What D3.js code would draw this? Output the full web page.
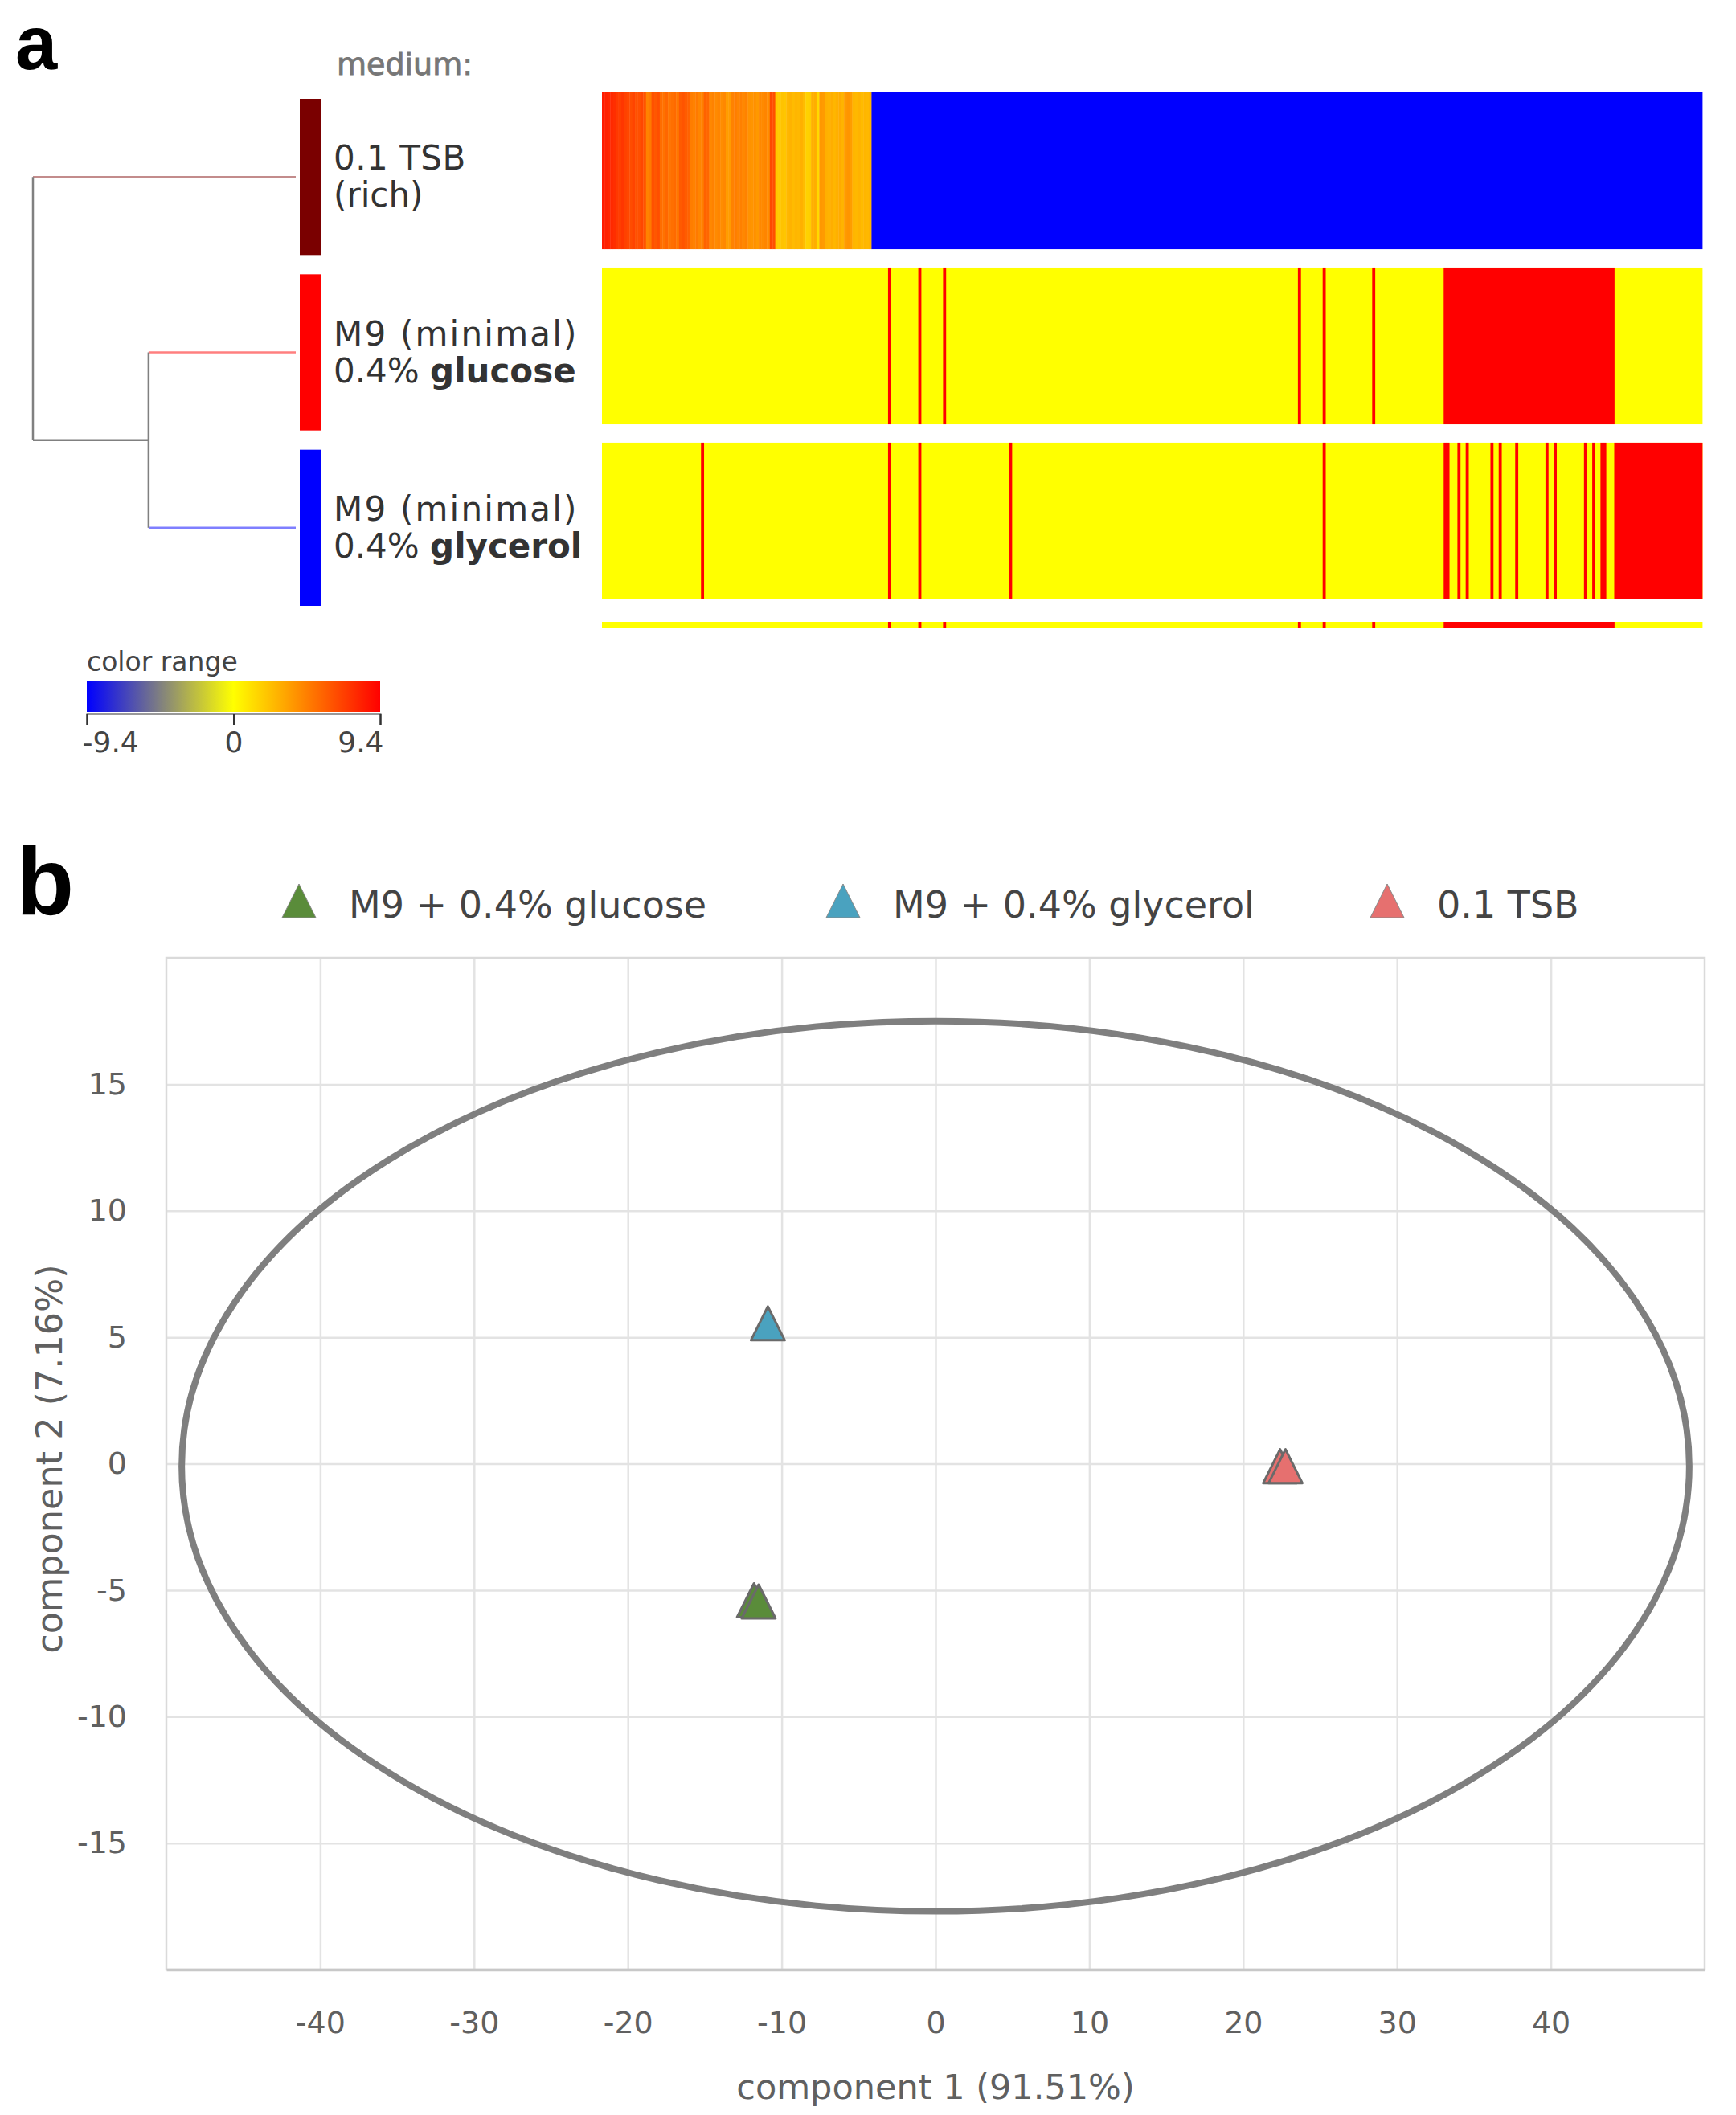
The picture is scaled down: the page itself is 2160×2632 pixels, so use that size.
<!DOCTYPE html>
<html>
<head>
<meta charset="utf-8">
<script src="https://cdn.jsdelivr.net/npm/d3@7/dist/d3.min.js"></script>
<style>
  body { margin: 0; background: #fff; }
  svg { display: block; }
  text { font-family: "DejaVu Sans", sans-serif; }
</style>
</head>
<body>
<svg id="chart" width="2160" height="2632"></svg>
<script>
// ---------------- DATA : panel a (heatmap) ----------------
const conditions = ["tsb", "glucose", "glycerol"];
const conditionLine1 = ["0.1 TSB", "M9 (minimal)", "M9 (minimal)"];
const conditionLine2Plain = ["(rich)", "0.4% ", "0.4% "];
const conditionLine2Bold = ["", "glucose", "glycerol"];
const conditionColors = ["#7a0000", "#ff0000", "#0000ff"];
const nColumns = 400;
// TSB row: warm (up-regulated) columns 0..97, then a blue block
const tsbWarmValues = [
  8.4, 8.2, 8.0, 7.9, 7.7,
  7.3, 7.1, 7.4, 7.0, 6.8,
  6.6, 6.9, 6.4, 6.5, 6.8, 6.3,
  4.6, 4.9,
  6.4, 6.2, 6.5,
  5.4, 5.2, 5.6, 5.1, 5.3, 5.5, 5.0,
  6.1, 6.3, 6.0, 5.8,
  4.8, 4.6, 4.9, 4.5, 4.7,
  5.8, 5.6,
  4.4, 4.6, 4.3, 4.5, 4.2, 4.4,
  3.6, 3.7,
  4.6, 4.8, 4.5, 4.7, 4.4, 4.6,
  4.0, 3.9, 4.1, 3.8,
  4.4, 4.3, 4.5, 4.2,
  6.7, 6.4,
  2.0, 1.9, 2.2, 2.1,
  2.6, 2.8, 2.5, 2.7, 2.6, 2.9, 2.5,
  1.7, 1.8,
  2.9, 3.0,
  1.4,
  3.8, 3.7,
  2.9, 2.8, 3.0, 2.7, 2.9, 3.1, 2.8,
  3.7, 3.9, 3.6,
  2.7, 2.6, 2.8, 2.5, 2.7, 2.6, 2.8
];
const tsbBlueBlock = [98, 400, -9.4];
const baseValue = 0;
const redValue = 9.4;
const glucoseRedCols = [104, 115, 124, 253, 262, 280];
const glucoseRedBlocks = [[306, 368]];
const glycerolRedCols = [36, 104, 115, 148, 262, 306, 307, 311, 314, 323, 326, 332, 343, 346, 357, 360, 363, 364];
const glycerolRedBlocks = [[368, 400]];
const colorStops = [-9.4, 0, 9.4];
const colorStopColors = ["#0000ff", "#ffff00", "#ff0000"];
const colorTicks = [-9.4, 0, 9.4];
// dendrogram merge heights (relative)
const mergeGlucoseGlycerol = 0.56;
const mergeRoot = 1.0;

// ---------------- DATA : panel b (PCA) ----------------
const pcaSeries = ["M9 + 0.4% glucose", "M9 + 0.4% glycerol", "0.1 TSB"];
const pcaColors = ["#5a8c3a", "#4aa2bf", "#e6706f"];
const glucosePoints = [[-11.8, -5.4], [-11.5, -5.45]];
const glycerolPoints = [[-10.9, 5.55]];
const tsbPoints = [[22.4, -0.1], [22.75, -0.1]];
const xTicks = [-40, -30, -20, -10, 0, 10, 20, 30, 40];
const yTicks = [-15, -10, -5, 0, 5, 10, 15];
const ellipseCenter = [0, -0.1];
const ellipseRadii = [49, 17.6];
const xTitle = "component 1 (91.51%)";
const yTitle = "component 2 (7.16%)";

// ---------------- DRAW ----------------
const svg = d3.select("#chart");

// panel labels
svg.append("text").attr("x", 19).attr("y", 86)
  .style("font-family", "'Liberation Sans', Arial, sans-serif")
  .attr("font-weight", "bold").attr("font-size", 94).attr("fill", "#000").text("a");
svg.append("text").attr("x", 20).attr("y", 1138)
  .style("font-family", "'Liberation Sans', Arial, sans-serif")
  .attr("font-weight", "bold").attr("font-size", 118).attr("fill", "#000").text("b");

// colour scale
const color = d3.scaleLinear().domain(colorStops).range(colorStopColors).interpolate(d3.interpolateRgb).clamp(true);

// heatmap scales
const hx = d3.scaleLinear().domain([0, nColumns]).range([749, 2118]);
const hy = d3.scaleBand().domain(conditions).range([115, 746]).paddingInner(0.105);
const by = d3.scaleBand().domain(conditions).range([123, 754]).paddingInner(0.11);

function rowSegments(redCols, redBlocks) {
  const segs = [[0, nColumns, baseValue]];
  redCols.forEach(c => segs.push([c, c + 1, redValue]));
  redBlocks.forEach(b => segs.push([b[0], b[1], redValue]));
  return segs;
}
const tsbSegments = tsbWarmValues.map((v, i) => [i, i + 1, v]).concat([tsbBlueBlock]);
const rows = {
  tsb: tsbSegments,
  glucose: rowSegments(glucoseRedCols, glucoseRedBlocks),
  glycerol: rowSegments(glycerolRedCols, glycerolRedBlocks)
};

const heat = svg.append("g");
conditions.forEach(c => {
  heat.append("g").selectAll("rect").data(rows[c]).join("rect")
    .attr("x", d => hx(d[0]))
    .attr("width", d => Math.max(0.5, hx(d[1]) - hx(d[0]) + 0.4))
    .attr("y", hy(c))
    .attr("height", hy.bandwidth())
    .attr("fill", d => color(d[2]));
});
// thin summary strip (glucose pattern)
heat.append("g").selectAll("rect").data(rows.glucose).join("rect")
  .attr("x", d => hx(d[0]))
  .attr("width", d => Math.max(0.5, hx(d[1]) - hx(d[0]) + 0.4))
  .attr("y", 774).attr("height", 8)
  .attr("fill", d => color(d[2]));

// condition colour bars
svg.append("g").selectAll("rect").data(conditions).join("rect")
  .attr("x", 373).attr("width", 27)
  .attr("y", d => by(d)).attr("height", by.bandwidth())
  .attr("fill", (d, i) => conditionColors[i]);

// "medium:" header
svg.append("text").attr("x", 419).attr("y", 93).attr("font-size", 38)
  .attr("fill", "#777").attr("stroke", "#777").attr("stroke-width", 0.9).text("medium:");

// condition labels
const lab = svg.append("g").attr("fill", "#333").attr("font-size", 42);
conditions.forEach((c, i) => {
  const mid = by(c) + by.bandwidth() / 2;
  lab.append("text").attr("x", 415).attr("y", mid - 9)
    .attr("letter-spacing", i === 0 ? 0.5 : 2.2).text(conditionLine1[i]);
  const t = lab.append("text").attr("x", 415).attr("y", mid + 37);
  t.append("tspan").text(conditionLine2Plain[i]);
  if (conditionLine2Bold[i]) t.append("tspan").attr("font-weight", "bold").text(conditionLine2Bold[i]);
});

// dendrogram
const dx = d3.scaleLinear().domain([0, mergeRoot]).range([368, 41]);
const leafY = c => by(c) + by.bandwidth() / 2;
const dendro = svg.append("g").attr("fill", "none").attr("stroke-width", 2.5);
const yG = leafY("glucose"), yGl = leafY("glycerol"), yT = leafY("tsb");
const yMerge = (yG + yGl) / 2;
dendro.append("line").attr("x1", dx(mergeRoot)).attr("x2", dx(0)).attr("y1", yT).attr("y2", yT)
  .attr("stroke", conditionColors[0]).attr("stroke-opacity", 0.45);
dendro.append("line").attr("x1", dx(mergeGlucoseGlycerol)).attr("x2", dx(0)).attr("y1", yG).attr("y2", yG)
  .attr("stroke", conditionColors[1]).attr("stroke-opacity", 0.5);
dendro.append("line").attr("x1", dx(mergeGlucoseGlycerol)).attr("x2", dx(0)).attr("y1", yGl).attr("y2", yGl)
  .attr("stroke", conditionColors[2]).attr("stroke-opacity", 0.5);
dendro.append("line").attr("x1", dx(mergeRoot)).attr("x2", dx(mergeRoot)).attr("y1", yT).attr("y2", yMerge).attr("stroke", "#808080");
dendro.append("line").attr("x1", dx(mergeRoot)).attr("x2", dx(mergeGlucoseGlycerol)).attr("y1", yMerge).attr("y2", yMerge).attr("stroke", "#808080");
dendro.append("line").attr("x1", dx(mergeGlucoseGlycerol)).attr("x2", dx(mergeGlucoseGlycerol)).attr("y1", yG).attr("y2", yGl).attr("stroke", "#808080");

// colour range legend
const lx = d3.scaleLinear().domain([colorTicks[0], colorTicks[colorTicks.length - 1]]).range([108, 473]);
const defs = svg.append("defs");
const grad = defs.append("linearGradient").attr("id", "cr").attr("x1", "0%").attr("x2", "100%");
d3.range(0, 1.0001, 0.05).forEach(t => {
  const v = lx.domain()[0] + t * (lx.domain()[1] - lx.domain()[0]);
  grad.append("stop").attr("offset", (t * 100) + "%").attr("stop-color", color(v));
});
svg.append("text").attr("x", 108).attr("y", 835).attr("font-size", 33).attr("fill", "#444").text("color range");
svg.append("rect").attr("x", 108).attr("y", 847).attr("width", 365).attr("height", 39).attr("fill", "url(#cr)");
const legAxis = svg.append("g").attr("transform", "translate(0,888)")
  .call(d3.axisBottom(lx).tickValues(colorTicks).tickSize(14).tickPadding(8).tickFormat(d => String(d)));
legAxis.select(".domain").attr("stroke", "#333").attr("stroke-width", 2);
legAxis.selectAll(".tick line").attr("stroke", "#333").attr("stroke-width", 2);
legAxis.selectAll(".tick text").attr("font-size", 36).attr("fill", "#444")
  .style("font-family", "'DejaVu Sans', sans-serif")
  .attr("text-anchor", (d, i) => i === 0 ? "start" : (i === colorTicks.length - 1 ? "end" : "middle"))
  .attr("dx", (d, i) => i === 0 ? -6 : (i === colorTicks.length - 1 ? 4 : 0));

// ---------------- panel b ----------------
const px = d3.scaleLinear().domain([-50, 50]).range([207, 2121]);
const py = d3.scaleLinear().domain([-20, 20]).range([2451, 1192]);
const plot = svg.append("g");

// grid
plot.append("g").attr("transform", "translate(0,1192)")
  .call(d3.axisBottom(px).tickValues(xTicks).tickSize(2451 - 1192).tickFormat(""))
  .call(g => g.select(".domain").remove())
  .call(g => g.selectAll(".tick line").attr("stroke", "#e3e3e3").attr("stroke-width", 2.5));
plot.append("g").attr("transform", "translate(207,0)")
  .call(d3.axisRight(py).tickValues(yTicks).tickSize(2121 - 207).tickFormat(""))
  .call(g => g.select(".domain").remove())
  .call(g => g.selectAll(".tick line").attr("stroke", "#e3e3e3").attr("stroke-width", 2.5));
// plot border
plot.append("rect").attr("x", 207).attr("y", 1192).attr("width", 2121 - 207).attr("height", 2451 - 1192)
  .attr("fill", "none").attr("stroke", "#dadada").attr("stroke-width", 2.5);

// axes labels
const xAx = plot.append("g").attr("transform", "translate(0,2451)")
  .call(d3.axisBottom(px).tickValues(xTicks).tickSize(0).tickPadding(52).tickFormat(d => String(d)));
xAx.select(".domain").attr("stroke", "#c8c8c8").attr("stroke-width", 3.5);
xAx.selectAll(".tick text").attr("font-size", 38).attr("fill", "#606060").style("font-family", "'DejaVu Sans', sans-serif");
const yAx = plot.append("g").attr("transform", "translate(207,0)")
  .call(d3.axisLeft(py).tickValues(yTicks).tickSize(0).tickPadding(49).tickFormat(d => String(d)));
yAx.select(".domain").remove();
yAx.selectAll(".tick text").attr("font-size", 38).attr("fill", "#606060").style("font-family", "'DejaVu Sans', sans-serif");

svg.append("text").attr("x", px(0)).attr("y", 2612).attr("text-anchor", "middle")
  .attr("font-size", 43).attr("fill", "#606060").text(xTitle);
svg.append("text").attr("transform", `translate(77,${(py(20) + py(-20)) / 2 - 6}) rotate(-90)`)
  .attr("text-anchor", "middle").attr("font-size", 44.5).attr("fill", "#606060").text(yTitle);

// ellipse
plot.append("ellipse")
  .attr("cx", px(ellipseCenter[0])).attr("cy", py(ellipseCenter[1]))
  .attr("rx", px(ellipseRadii[0]) - px(0)).attr("ry", py(0) - py(ellipseRadii[1]))
  .attr("fill", "none").attr("stroke", "#7f7f7f").attr("stroke-width", 8);

// triangles
const R = 21;
const tri = (cx, cy, r) => `M${cx},${cy - r}L${cx + r},${cy + r}L${cx - r},${cy + r}Z`;
const seriesPoints = [glucosePoints, glycerolPoints, tsbPoints];
seriesPoints.forEach((pts, i) => {
  plot.append("g").selectAll("path").data(pts).join("path")
    .attr("d", d => tri(px(d[0]), py(d[1]), R))
    .attr("fill", pcaColors[i]).attr("stroke", "#6a6a6a").attr("stroke-width", 3)
    .attr("stroke-linejoin", "round");
});

// legend
const legX = [372, 1049, 1726];
const leg = svg.append("g");
pcaSeries.forEach((s, i) => {
  leg.append("path").attr("d", tri(legX[i], 1121, 21)).attr("fill", pcaColors[i])
    .attr("stroke", "#888").attr("stroke-width", 1);
  leg.append("text").attr("x", legX[i] + 62).attr("y", 1142).attr("font-size", 46)
    .attr("fill", "#444").text(s);
});
</script>
</body>
</html>
